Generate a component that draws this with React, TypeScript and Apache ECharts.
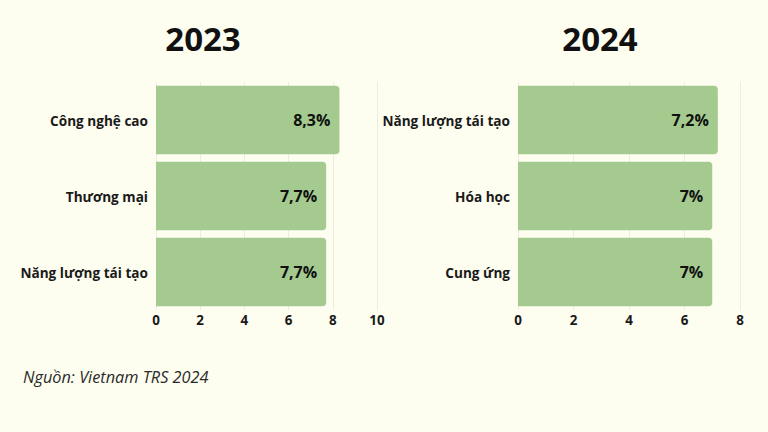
import React, { useEffect, useRef } from "react";
import * as echarts from "echarts";

const cats2023 = ["Công nghệ cao", "Thương mại", "Năng lượng tái tạo"];
const vals2023 = [8.3, 7.7, 7.7];
const labels2023 = ["8,3%", "7,7%", "7,7%"];
const cats2024 = ["Năng lượng tái tạo", "Hóa học", "Cung ứng"];
const vals2024 = [7.2, 7, 7];
const labels2024 = ["7,2%", "7%", "7%"];
const titles = ["2023", "2024"];
const source = "Nguồn: Vietnam TRS 2024";

const BAR = "#a4ca8f";
const FONT = "Open Sans";

export default function App() {
  const ref = useRef<HTMLDivElement>(null);
  useEffect(() => {
    document.body.style.margin = "0";
    const chart = echarts.init(ref.current!, null, { renderer: "svg" });
    const mkX = (idx: number, max: number) => ({
      type: "value",
      gridIndex: idx,
      min: 0,
      max,
      interval: 2,
      axisLine: { show: false },
      axisTick: { show: false },
      splitLine: { show: true, lineStyle: { color: "#ecece0", width: 1 } },
      axisLabel: { color: "#1a1a1a", fontFamily: FONT, fontWeight: "bold", fontSize: 13.4, margin: 3 },
    });
    const mkY = (idx: number, cats: string[]) => ({
      type: "category",
      gridIndex: idx,
      data: cats,
      inverse: true,
      axisLine: { show: false },
      axisTick: { show: false },
      axisLabel: { color: "#1a1a1a", fontFamily: FONT, fontWeight: "bold", fontSize: 13.6, margin: 8 },
    });
    const mkS = (idx: number, vals: number[], labels: string[]) => ({
      type: "bar",
      xAxisIndex: idx,
      yAxisIndex: idx,
      data: vals,
      barCategoryGap: "10%",
      itemStyle: { color: BAR, borderRadius: [0, 4, 4, 0] },
      label: {
        show: true,
        position: "insideRight",
        distance: 9,
        color: "#111",
        fontFamily: FONT,
        fontWeight: "bold",
        fontSize: 16,
        formatter: (p: any) => labels[p.dataIndex],
      },
    });
    chart.setOption({
      animation: false,
      backgroundColor: "#fefef0",
      title: [
        { text: titles[0], left: 203, top: 22, padding: 0, textAlign: "center", textStyle: { fontFamily: FONT, fontWeight: "bold", fontSize: 33, color: "#111" } },
        { text: titles[1], left: 600, top: 22, padding: 0, textAlign: "center", textStyle: { fontFamily: FONT, fontWeight: "bold", fontSize: 33, color: "#111" } },
        { text: source, left: 23, top: 369, padding: 0, textStyle: { fontFamily: FONT, fontStyle: "italic", fontWeight: "normal", fontSize: 16.3, color: "#2a2a2a" } },
      ],
      grid: [
        { left: 156, width: 221, top: 82, height: 228 },
        { left: 518, width: 222, top: 82, height: 228 },
      ],
      xAxis: [mkX(0, 10), mkX(1, 8)],
      yAxis: [mkY(0, cats2023), mkY(1, cats2024)],
      series: [mkS(0, vals2023, labels2023), mkS(1, vals2024, labels2024)],
    });
    return () => chart.dispose();
  }, []);
  return <div ref={ref} style={{ width: 768, height: 432, position: "absolute", left: 0, top: 0 }} />;
}
